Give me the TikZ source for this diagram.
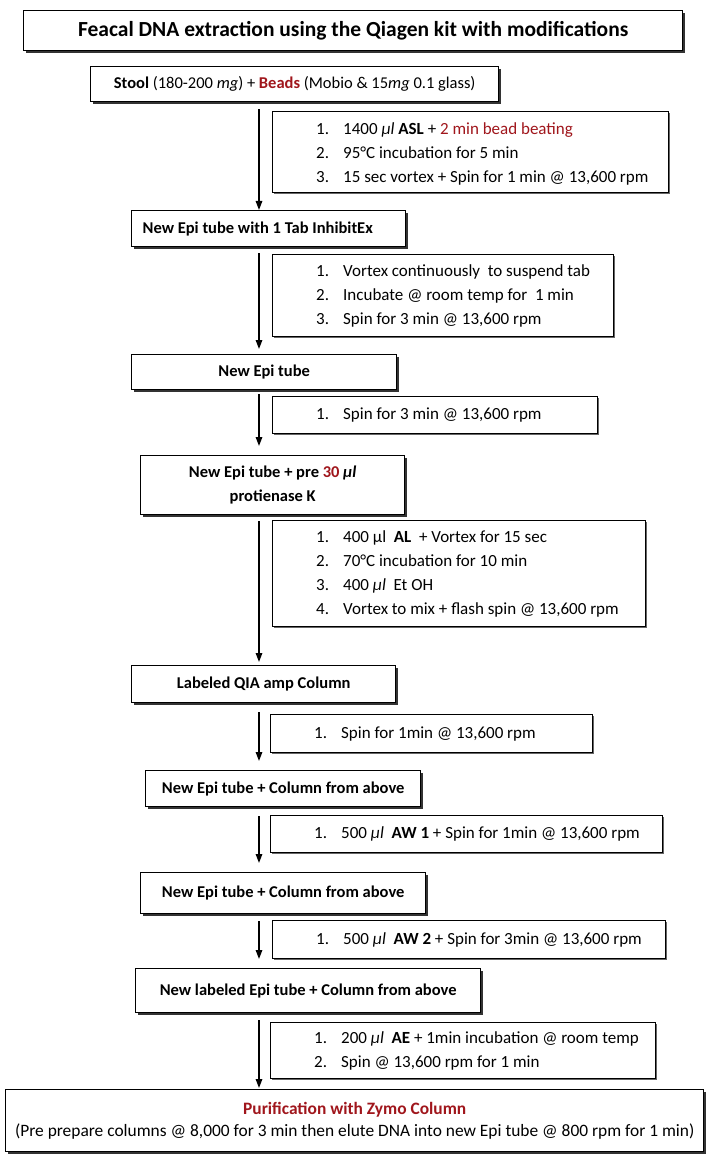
\documentclass[tikz,border=0pt]{standalone}
\usepackage{fontspec}
\setmainfont{Carlito}
\usetikzlibrary{arrows.meta,shadows,calc}
\definecolor{dred}{RGB}{160,22,28}
\tikzset{
  shbox/.style={draw, line width=1.4pt, fill=white, inner sep=0pt, anchor=north west,
    drop shadow={shadow xshift=2.5pt, shadow yshift=-2.5pt, fill=black!80, opacity=1}},
  lbox/.style={shbox, font=\bfseries\fontsize{16.5}{24}\selectfont, align=center},
  sbox/.style={draw, line width=1.1pt, fill=white, inner sep=0pt, anchor=north west,
    drop shadow={shadow xshift=1.5pt, shadow yshift=-1.5pt, fill=black!60, opacity=1}},
  stext/.style={anchor=west, inner sep=0pt, align=left, font=\fontsize{17}{24}\selectfont},
  arr/.style={line width=1.4pt, -{Triangle[length=9pt,width=6.5pt]}},
}
\newcommand{\itm}[1]{\makebox[27pt][l]{#1}}
\begin{document}
\begin{tikzpicture}[x=1pt,y=-1pt]
\useasboundingbox (0,0) rectangle (705,1155);
% left column boxes
\node[shbox, minimum width=659pt, minimum height=40pt, font=\bfseries\fontsize{21.5}{24}\selectfont] (title) at (23,10) {Feacal DNA extraction using the Qiagen kit with modifications};
\node[shbox, minimum width=408pt, minimum height=35pt, font=\fontsize{16.5}{20}\selectfont] (stool) at (90,66) {\textbf{Stool} (180-200 \textit{mg}) + \textcolor{dred}{\textbf{Beads}} (Mobio \& 15\textit{mg} 0.1 glass)};
\node[lbox, minimum width=274pt, minimum height=36pt, align=flush left, text width=252pt] (inhib) at (131,210) {New Epi tube with 1 Tab InhibitEx};
\node[lbox, minimum width=265pt, minimum height=35pt] (epi1) at (131,354) {New Epi tube};
\node[lbox, minimum width=264pt, minimum height=59pt] (prot) at (140,455) {New Epi tube + pre \textcolor{dred}{30} \textit{µl}\\protienase K};
\node[lbox, minimum width=264pt, minimum height=37pt] (qia) at (131,665) {Labeled QIA amp Column};
\node[lbox, minimum width=275pt, minimum height=36pt] (col1) at (145,770) {New Epi tube + Column from above};
\node[lbox, minimum width=285pt, minimum height=41pt] (col2) at (140,872) {New Epi tube + Column from above};
\node[lbox, minimum width=345pt, minimum height=44pt] (col3) at (135,968) {New labeled Epi tube + Column from above};
\node[shbox, minimum width=698pt, minimum height=62pt, align=center, font=\fontsize{17.4}{22}\selectfont] (final) at (5,1089) {\textcolor{dred}{\textbf{Purification with Zymo Column}}\\(Pre prepare columns @ 8,000 for 3 min then elute DNA into new Epi tube @ 800 rpm for 1 min)};
% step boxes
\node[sbox, minimum width=396pt, minimum height=81pt] (s1) at (272,111) {};
\node[stext] (s1t) at ($(s1.west)+(44,2)$) {\itm{1.}1400 \textit{µl} \textbf{ASL} + \textcolor{dred}{2 min bead beating}\\ \itm{2.}95°C incubation for 5 min\\ \itm{3.}15 sec vortex + Spin for 1 min @ 13,600 rpm};
\node[sbox, minimum width=341pt, minimum height=82pt] (s2) at (272,254) {};
\node[stext] (s2t) at ($(s2.west)+(44,0)$) {\itm{1.}Vortex continuously \ to suspend tab\\ \itm{2.}Incubate @ room temp for \ 1 min\\ \itm{3.}Spin for 3 min @ 13,600 rpm};
\node[sbox, minimum width=325pt, minimum height=37pt] (s3) at (272,396) {};
\node[stext] (s3t) at ($(s3.west)+(44,0)$) {\itm{1.}Spin for 3 min @ 13,600 rpm};
\node[sbox, minimum width=373pt, minimum height=106pt] (s4) at (272,520) {};
\node[stext] (s4t) at ($(s4.west)+(44,0)$) {\itm{1.}400 µl \ \textbf{AL} \ + Vortex for 15 sec\\ \itm{2.}70°C incubation for 10 min\\ \itm{3.}400 \textit{µl} \ Et OH\\ \itm{4.}Vortex to mix + flash spin @ 13,600 rpm};
\node[sbox, minimum width=322pt, minimum height=38pt] (s5) at (270,714) {};
\node[stext] (s5t) at ($(s5.west)+(44,0)$) {\itm{1.}Spin for 1min @ 13,600 rpm};
\node[sbox, minimum width=392pt, minimum height=37pt] (s6) at (270,815) {};
\node[stext] (s6t) at ($(s6.west)+(44,0)$) {\itm{1.}500 \textit{µl} \ \textbf{AW 1} + Spin for 1min @ 13,600 rpm};
\node[sbox, minimum width=393pt, minimum height=38pt] (s7) at (272,920) {};
\node[stext] (s7t) at ($(s7.west)+(44,0)$) {\itm{1.}500 \textit{µl} \ \textbf{AW 2} + Spin for 3min @ 13,600 rpm};
\node[sbox, minimum width=385pt, minimum height=56pt] (s8) at (270,1022) {};
\node[stext] (s8t) at ($(s8.west)+(44,0)$) {\itm{1.}200 \textit{µl} \ \textbf{AE} + 1min incubation @ room temp\\ \itm{2.}Spin @ 13,600 rpm for 1 min};
% arrows
\coordinate (ax) at (259,0);
\draw[arr, shorten <=7pt] (ax |- stool.south) -- (ax |- inhib.north);
\draw[arr, shorten <=6pt, shorten >=5pt] (ax |- inhib.south) -- (ax |- epi1.north);
\draw[arr, shorten <=4pt, shorten >=9pt] (ax |- epi1.south) -- (ax |- prot.north);
\draw[arr, shorten <=6pt, shorten >=3pt] (ax |- prot.south) -- (ax |- qia.north);
\draw[arr, shorten <=9pt, shorten >=9pt] (ax |- qia.south) -- (ax |- col1.north);
\draw[arr, shorten <=9pt, shorten >=9pt] (ax |- col1.south) -- (ax |- col2.north);
\draw[arr, shorten <=7pt, shorten >=9pt] (ax |- col2.south) -- (ax |- col3.north);
\draw[arr, shorten <=7pt, shorten >=1pt] (ax |- col3.south) -- (ax |- final.north);
\end{tikzpicture}
\end{document}
